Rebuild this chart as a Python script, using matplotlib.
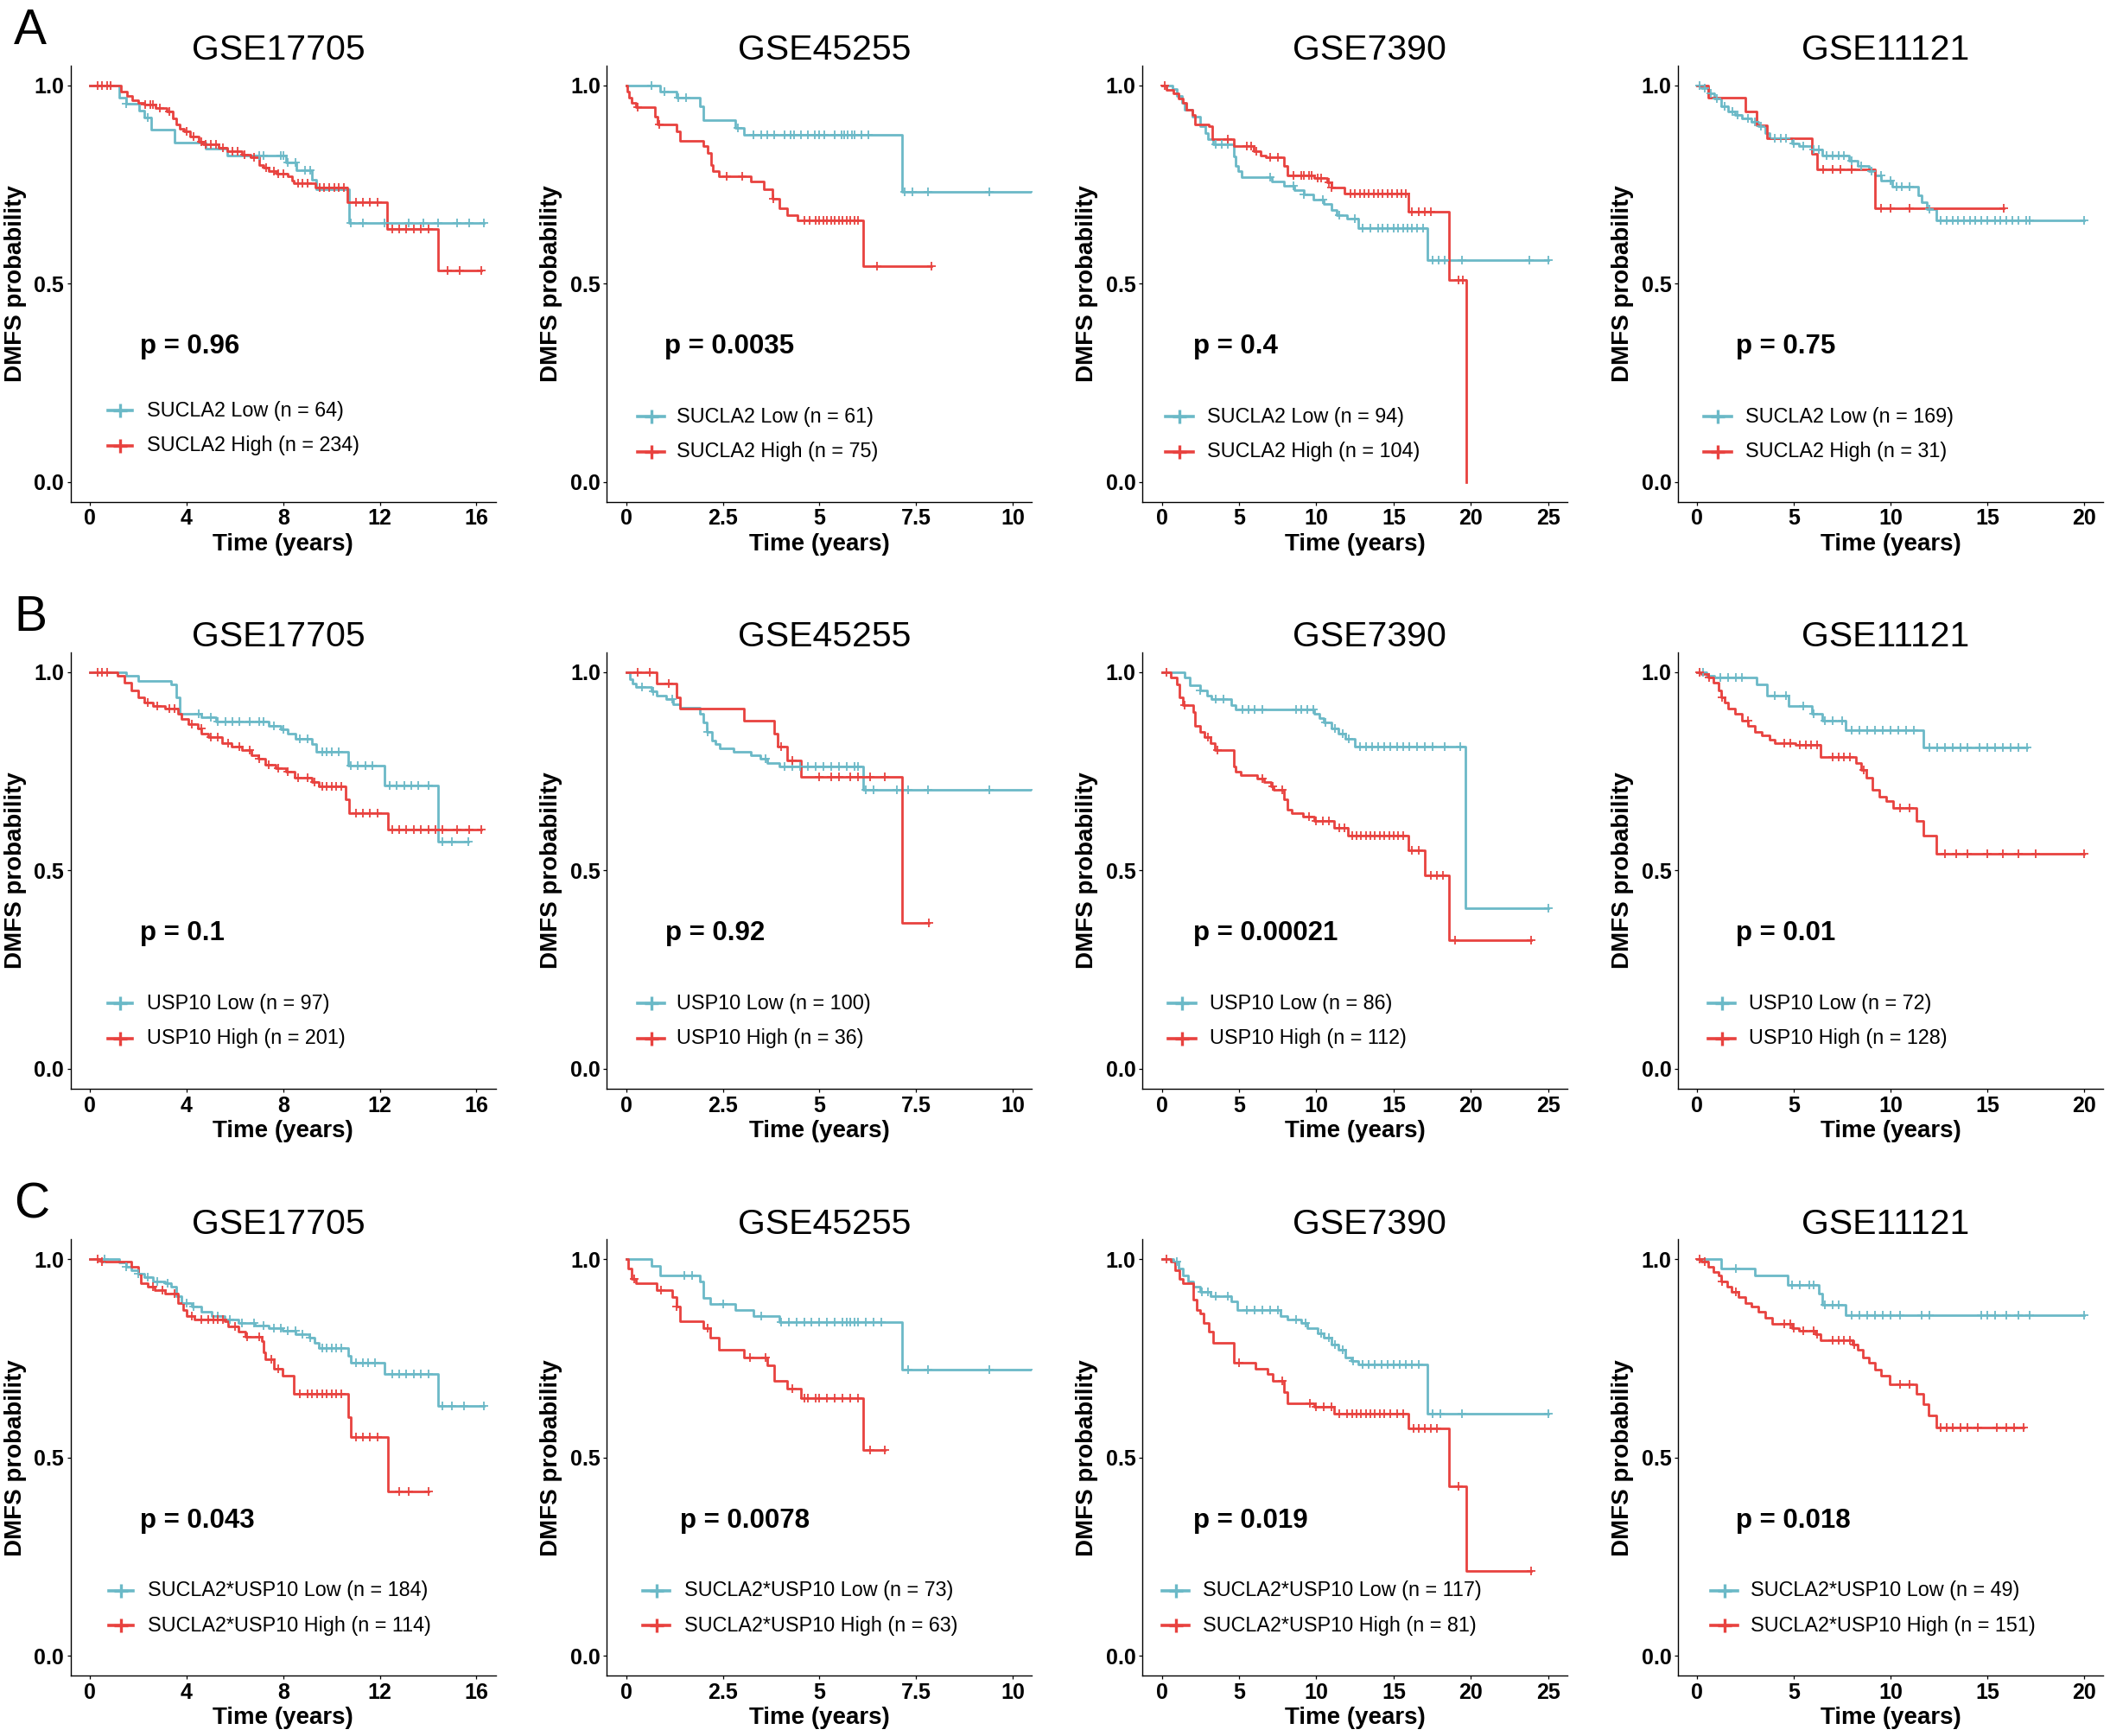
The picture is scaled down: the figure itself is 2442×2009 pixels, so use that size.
import matplotlib
matplotlib.use("Agg")
import matplotlib.pyplot as plt
import numpy as np

plt.rcParams['font.family'] = ['Liberation Sans', 'DejaVu Sans']

LOW_COL = '#6BB9C7'
HIGH_COL = '#E8423F'

# Panel text
datasets = ['GSE17705', 'GSE45255', 'GSE7390', 'GSE11121']
x_max = [16, 10, 25, 20]
x_ticks = [[0, 4, 8, 12, 16], [0, 2.5, 5, 7.5, 10], [0, 5, 10, 15, 20, 25], [0, 5, 10, 15, 20]]
x_tick_labels = [['0', '4', '8', '12', '16'], ['0', '2.5', '5', '7.5', '10'],
                 ['0', '5', '10', '15', '20', '25'], ['0', '5', '10', '15', '20']]
row_letters = ['A', 'B', 'C']
genes = ['SUCLA2', 'USP10', 'SUCLA2*USP10']
n_low = [[64, 61, 94, 169], [97, 100, 86, 72], [184, 73, 117, 49]]
n_high = [[234, 75, 104, 31], [201, 36, 112, 128], [114, 63, 81, 151]]
p_values = [['0.96', '0.0035', '0.4', '0.75'],
            ['0.1', '0.92', '0.00021', '0.01'],
            ['0.043', '0.0078', '0.019', '0.018']]

# ---- Row A : SUCLA2 ----
a1_low_t = [1.22, 1.49, 2.05, 2.23, 2.55, 3.50, 4.77, 5.68, 8.12, 8.54, 9.19, 9.35, 10.71]
a1_low_s = [0.970, 0.954, 0.936, 0.919, 0.889, 0.856, 0.840, 0.823, 0.806, 0.785, 0.763, 0.738, 0.653]
a1_low_c = [1.5, 2.4, 7.0, 7.2, 7.9, 8.0, 8.2, 8.5, 8.9, 9.1, 10.8, 11.3, 12.2, 13.2, 13.8, 14.4, 15.2, 15.7]
a1_low_end = 16.3
a1_high_t = [1.28, 1.52, 1.75, 1.99, 2.23, 2.70, 3.18, 3.42, 3.56, 3.72, 3.90, 4.14, 4.49, 4.67, 5.33,
             5.68, 6.28, 6.64, 7.00, 7.17, 7.41, 7.71, 8.18, 8.36, 8.42, 9.32, 10.65, 12.30, 14.40]
a1_high_s = [0.985, 0.974, 0.963, 0.956, 0.951, 0.943, 0.934, 0.916, 0.901, 0.891, 0.883, 0.872, 0.858,
             0.851, 0.842, 0.833, 0.825, 0.818, 0.800, 0.793, 0.784, 0.778, 0.771, 0.760, 0.753, 0.743,
             0.706, 0.638, 0.534]
a1_high_c = [0.3, 0.5, 0.7, 0.85, 2.3, 2.5, 2.6, 2.9, 3.3, 4.0, 4.3, 4.6, 4.8, 5.0, 5.2, 5.5, 5.9, 6.1,
             6.4, 6.8, 7.3, 7.6, 7.8, 8.0, 8.6, 8.8, 9.0, 9.5, 9.7, 9.9, 10.1, 10.3, 10.5, 11.0, 11.3,
             11.6, 11.9, 12.5, 12.8, 13.1, 13.4, 13.7, 14.0, 14.8, 15.3]
a1_high_end = 16.2

a2_low_t = [0.87, 1.30, 1.91, 2.00, 2.83, 3.04, 7.13]
a2_low_s = [0.984, 0.968, 0.948, 0.913, 0.893, 0.876, 0.731]
a2_low_c = [0.66, 1.0, 1.35, 1.55, 2.9, 3.3, 3.5, 3.65, 3.83, 4.09, 4.26, 4.35, 4.52, 4.70, 4.87, 5.0,
            5.13, 5.39, 5.57, 5.65, 5.74, 5.83, 5.91, 6.09, 6.26, 7.2, 7.4, 7.8, 9.4]
a2_low_end = 10.6
a2_high_t = [0.03, 0.08, 0.15, 0.25, 0.75, 0.80, 1.30, 1.40, 2.00, 2.10, 2.20, 2.25, 2.40, 3.22, 3.57,
             3.79, 3.97, 4.17, 4.43, 6.14]
a2_high_s = [0.985, 0.970, 0.955, 0.945, 0.920, 0.902, 0.885, 0.861, 0.847, 0.830, 0.800, 0.783, 0.771,
             0.758, 0.737, 0.714, 0.691, 0.673, 0.659, 0.545]
a2_high_c = [0.3, 0.85, 2.6, 3.0, 3.8, 4.6, 4.75, 4.9, 5.0, 5.1, 5.2, 5.3, 5.4, 5.5, 5.6, 5.7, 5.8, 5.9,
             6.0, 6.5]
a2_high_end = 7.9

a3_low_t = [0.70, 1.00, 1.30, 1.50, 2.00, 2.50, 2.80, 3.00, 3.30, 4.65, 4.78, 4.96, 5.17, 7.10, 7.90,
            8.60, 9.20, 9.80, 10.50, 11.00, 11.30, 12.00, 12.70, 17.20]
a3_low_s = [0.990, 0.973, 0.955, 0.939, 0.920, 0.897, 0.879, 0.865, 0.852, 0.820, 0.797, 0.783, 0.769,
            0.757, 0.746, 0.735, 0.724, 0.712, 0.700, 0.686, 0.673, 0.664, 0.641, 0.559]
a3_low_c = [3.5, 3.9, 4.3, 7.0, 8.5, 9.2, 10.4, 11.5, 12.5, 13.0, 13.5, 14.0, 14.3, 14.6, 15.0, 15.3,
            15.6, 15.9, 16.2, 16.5, 16.9, 17.5, 17.9, 18.3, 19.4, 23.8]
a3_low_end = 25.0
a3_high_t = [0.30, 0.74, 1.09, 1.39, 1.60, 1.96, 2.17, 3.04, 3.26, 4.65, 5.96, 6.40, 6.74, 7.90, 8.13,
             9.87, 10.70, 10.96, 11.80, 15.96, 18.57, 19.70]
a3_high_s = [0.989, 0.980, 0.966, 0.955, 0.939, 0.925, 0.902, 0.897, 0.865, 0.847, 0.833, 0.824, 0.818,
             0.797, 0.774, 0.767, 0.755, 0.742, 0.728, 0.682, 0.510, 0.0]
a3_high_c = [0.2, 4.3, 5.5, 5.8, 6.1, 7.0, 7.5, 8.5, 9.0, 9.2, 9.5, 9.7, 10.1, 10.3, 10.8, 11.0, 12.2,
             12.5, 12.8, 13.1, 13.4, 13.7, 14.0, 14.3, 14.6, 14.9, 15.2, 15.5, 15.8, 16.2, 16.6, 17.0,
             17.4, 19.2, 19.5]
a3_high_end = 19.7

a4_low_t = [0.20, 0.56, 0.90, 1.25, 1.60, 1.95, 2.30, 2.82, 3.17, 3.50, 3.76, 4.90, 5.25, 5.95, 6.47,
            7.86, 8.28, 8.90, 9.18, 9.53, 10.10, 11.44, 11.60, 11.86, 12.38]
a4_low_s = [0.993, 0.980, 0.966, 0.948, 0.934, 0.925, 0.916, 0.907, 0.897, 0.879, 0.867, 0.854, 0.847,
            0.838, 0.824, 0.810, 0.797, 0.783, 0.774, 0.760, 0.745, 0.723, 0.705, 0.687, 0.659]
a4_low_c = [0.1, 0.4, 0.7, 1.0, 1.4, 1.8, 2.1, 2.6, 3.0, 3.3, 4.0, 4.3, 4.6, 5.0, 5.5, 6.0, 6.3, 6.7,
            7.0, 7.3, 7.6, 8.0, 8.5, 9.0, 9.5, 10.0, 10.3, 10.6, 11.0, 12.0, 12.6, 12.9, 13.2, 13.5,
            13.8, 14.1, 14.4, 14.7, 15.0, 15.4, 15.7, 16.0, 16.3, 16.6, 17.0, 17.2]
a4_low_end = 20.0
a4_high_t = [0.55, 2.47, 3.06, 3.60, 5.95, 6.20, 9.18]
a4_high_s = [0.968, 0.934, 0.900, 0.867, 0.828, 0.788, 0.690]
a4_high_c = [6.5, 7.0, 7.4, 8.0, 9.5, 10.0, 11.0]
a4_high_end = 15.86

# ---- Row B : USP10 ----
b1_low_t = [1.50, 1.98, 3.37, 3.56, 3.73, 4.62, 5.23, 7.40, 7.90, 8.18, 8.50, 9.20, 9.35, 10.68, 12.19,
            14.41]
b1_low_s = [0.992, 0.978, 0.969, 0.937, 0.896, 0.886, 0.875, 0.864, 0.855, 0.845, 0.832, 0.818, 0.800,
            0.765, 0.714, 0.572]
b1_low_c = [4.5, 5.0, 5.3, 5.6, 5.9, 6.2, 6.6, 7.0, 7.2, 7.6, 8.0, 8.7, 9.0, 9.6, 9.8, 10.0, 10.3, 10.8,
            11.1, 11.4, 11.7, 12.4, 12.7, 13.0, 13.3, 13.6, 14.0, 14.6, 15.0]
b1_low_end = 15.67
b1_high_t = [1.14, 1.42, 1.70, 1.98, 2.25, 2.60, 3.09, 3.64, 3.78, 4.06, 4.48, 4.62, 4.90, 5.45, 5.87,
             6.29, 6.70, 6.98, 7.26, 7.68, 8.10, 8.46, 9.20, 9.49, 10.60, 10.74, 12.35]
b1_high_s = [0.992, 0.973, 0.955, 0.937, 0.923, 0.914, 0.909, 0.896, 0.882, 0.868, 0.859, 0.845, 0.836,
             0.822, 0.813, 0.804, 0.790, 0.781, 0.767, 0.758, 0.749, 0.735, 0.722, 0.712, 0.680, 0.644,
             0.603]
b1_high_c = [0.3, 0.5, 0.7, 2.4, 2.8, 3.3, 3.5, 4.2, 4.6, 5.0, 5.3, 5.7, 6.2, 6.6, 7.0, 7.4, 7.8, 8.2,
             8.6, 9.0, 9.3, 9.6, 9.8, 10.0, 10.2, 10.4, 11.0, 11.3, 11.6, 11.9, 12.5, 12.8, 13.1, 13.4,
             13.7, 14.0, 14.3, 14.6, 15.2, 15.7]
b1_high_end = 16.2

b2_low_t = [0.09, 0.17, 0.26, 0.66, 0.78, 1.04, 1.22, 1.39, 1.91, 2.00, 2.09, 2.21, 2.30, 2.43, 2.78,
            3.22, 3.48, 3.65, 3.97, 6.14]
b2_low_s = [0.983, 0.972, 0.962, 0.951, 0.941, 0.932, 0.920, 0.911, 0.896, 0.873, 0.850, 0.827, 0.818,
            0.809, 0.800, 0.791, 0.781, 0.772, 0.763, 0.703]
b2_low_c = [0.4, 0.7, 1.2, 2.1, 3.6, 4.1, 4.3, 4.5, 4.7, 4.9, 5.1, 5.3, 5.5, 5.7, 5.9, 6.0, 6.2, 6.4,
            7.0, 7.3, 7.8, 9.4]
b2_low_end = 10.6
b2_high_t = [0.78, 1.30, 1.39, 3.04, 3.83, 3.91, 4.17, 4.52, 7.13]
b2_high_s = [0.972, 0.937, 0.909, 0.877, 0.845, 0.813, 0.777, 0.737, 0.369]
b2_high_c = [0.3, 0.6, 1.1, 4.0, 4.3, 5.0, 5.3, 5.5, 5.8, 6.0, 6.3, 6.7]
b2_high_end = 7.83

b3_low_t = [1.48, 1.83, 2.48, 2.91, 3.22, 4.52, 4.78, 9.87, 10.20, 10.50, 10.96, 11.40, 11.90, 12.50,
            19.65]
b3_low_s = [0.987, 0.966, 0.953, 0.941, 0.932, 0.918, 0.907, 0.896, 0.884, 0.873, 0.859, 0.845, 0.832,
            0.813, 0.406]
b3_low_c = [2.5, 3.5, 4.0, 5.2, 5.6, 6.0, 6.5, 8.7, 9.0, 9.4, 9.8, 10.6, 11.2, 11.7, 12.1, 12.8, 13.2,
            13.6, 14.0, 14.4, 14.8, 15.2, 15.6, 16.0, 16.5, 17.0, 17.5, 18.3, 19.3]
b3_low_end = 25.0
b3_high_t = [0.60, 0.96, 1.17, 1.39, 2.04, 2.17, 2.48, 2.78, 3.13, 3.43, 4.65, 4.78, 5.09, 6.17, 6.60,
             7.04, 7.26, 7.90, 8.13, 8.43, 9.13, 9.87, 11.17, 12.04, 15.96, 17.04, 18.57]
b3_high_s = [0.987, 0.969, 0.937, 0.918, 0.900, 0.865, 0.850, 0.836, 0.822, 0.804, 0.763, 0.749, 0.740,
             0.731, 0.722, 0.712, 0.703, 0.680, 0.653, 0.644, 0.635, 0.625, 0.607, 0.589, 0.552, 0.488,
             0.325]
b3_high_c = [0.3, 1.5, 3.0, 3.6, 6.5, 7.2, 7.8, 9.5, 10.0, 10.4, 10.8, 11.5, 11.8, 12.3, 12.6, 12.9,
             13.2, 13.5, 13.8, 14.1, 14.4, 14.7, 15.0, 15.3, 15.6, 16.2, 16.6, 17.4, 17.8, 18.2, 19.0]
b3_high_end = 23.9

b4_low_t = [0.49, 0.90, 3.06, 3.62, 4.73, 5.95, 6.47, 7.69, 11.69]
b4_low_s = [0.992, 0.987, 0.969, 0.941, 0.914, 0.896, 0.877, 0.854, 0.810]
b4_low_c = [0.3, 1.2, 1.6, 2.0, 2.3, 4.0, 4.6, 5.5, 6.0, 6.6, 7.0, 7.5, 8.0, 8.4, 8.8, 9.2, 9.6, 10.0,
            10.4, 10.8, 11.2, 12.0, 12.4, 12.8, 13.2, 13.6, 14.0, 14.6, 15.0, 15.4, 15.8, 16.2, 16.6]
b4_low_end = 17.08
b4_high_t = [0.20, 0.56, 0.83, 1.08, 1.25, 1.43, 1.60, 1.95, 2.30, 2.64, 2.99, 3.34, 3.76, 4.03, 5.08,
             6.40, 8.20, 8.49, 8.73, 9.08, 9.43, 9.77, 10.12, 11.34, 11.69, 12.38]
b4_high_s = [0.996, 0.987, 0.973, 0.955, 0.937, 0.923, 0.909, 0.896, 0.877, 0.864, 0.850, 0.841, 0.829,
             0.822, 0.816, 0.786, 0.772, 0.753, 0.735, 0.703, 0.685, 0.676, 0.657, 0.625, 0.589, 0.543]
b4_high_c = [0.1, 0.6, 1.3, 2.6, 4.5, 4.8, 5.3, 5.6, 5.9, 6.2, 7.0, 7.3, 7.6, 7.9, 8.6, 10.5, 11.0,
             12.8, 13.4, 14.0, 15.0, 15.8, 16.6, 17.5]
b4_high_end = 20.0

# ---- Row C : SUCLA2*USP10 ----
c1_low_t = [1.22, 1.50, 1.70, 1.98, 2.25, 2.62, 3.09, 3.37, 3.56, 3.78, 4.20, 4.62, 5.04, 5.59, 6.15,
            6.84, 7.40, 7.96, 8.51, 9.07, 9.29, 9.49, 10.68, 10.80, 12.19, 14.41]
c1_low_s = [0.993, 0.981, 0.972, 0.963, 0.954, 0.945, 0.940, 0.931, 0.908, 0.890, 0.881, 0.867, 0.858,
            0.849, 0.840, 0.832, 0.826, 0.821, 0.812, 0.803, 0.789, 0.776, 0.757, 0.739, 0.710, 0.631]
c1_low_c = [0.6, 1.5, 2.0, 2.4, 2.8, 3.2, 4.0, 4.3, 5.3, 5.8, 6.3, 6.8, 7.2, 7.6, 7.9, 8.2, 8.5, 8.8,
            9.1, 9.6, 9.8, 10.0, 10.2, 10.4, 11.0, 11.3, 11.5, 11.8, 12.5, 12.8, 13.1, 13.4, 13.7, 14.0,
            14.6, 15.0, 15.5]
c1_low_end = 16.3
c1_high_t = [0.45, 1.70, 1.98, 2.11, 2.39, 2.67, 3.09, 3.64, 3.84, 4.00, 4.34, 5.59, 5.73, 6.15, 6.43,
             7.12, 7.18, 7.26, 7.62, 7.96, 8.43, 10.68, 10.80, 12.35]
c1_high_s = [0.994, 0.981, 0.963, 0.940, 0.931, 0.922, 0.913, 0.890, 0.872, 0.858, 0.849, 0.844, 0.831,
             0.817, 0.805, 0.794, 0.766, 0.748, 0.725, 0.707, 0.661, 0.602, 0.551, 0.414]
c1_high_c = [0.3, 0.5, 2.6, 3.0, 3.5, 4.2, 4.6, 4.9, 5.1, 5.3, 5.5, 6.0, 6.5, 7.0, 7.5, 7.8, 8.7, 9.0,
             9.2, 9.4, 9.6, 9.8, 10.0, 10.2, 10.4, 11.0, 11.3, 11.6, 11.9, 12.8, 13.2]
c1_high_end = 14.0

c2_low_t = [0.66, 0.87, 1.91, 2.00, 2.17, 2.82, 3.30, 3.97, 7.13]
c2_low_s = [0.984, 0.959, 0.945, 0.902, 0.887, 0.872, 0.856, 0.842, 0.721]
c2_low_c = [1.5, 1.7, 2.5, 3.5, 4.0, 4.2, 4.4, 4.6, 4.8, 5.0, 5.2, 5.4, 5.6, 5.7, 5.8, 5.9, 6.0, 6.2,
            6.4, 6.6, 7.3, 7.8, 9.4]
c2_low_end = 10.6
c2_high_t = [0.05, 0.14, 0.26, 0.78, 1.18, 1.30, 1.39, 2.00, 2.17, 2.40, 3.04, 3.65, 3.83, 4.17, 4.52,
             6.14]
c2_high_s = [0.977, 0.950, 0.939, 0.922, 0.904, 0.881, 0.844, 0.826, 0.803, 0.771, 0.753, 0.732, 0.693,
             0.673, 0.649, 0.519]
c2_high_c = [0.2, 0.9, 1.3, 2.1, 3.2, 3.6, 4.3, 4.6, 4.7, 4.9, 5.0, 5.2, 5.4, 5.6, 5.8, 6.0, 6.3]
c2_high_end = 6.7

c3_low_t = [0.74, 1.09, 1.39, 1.70, 2.04, 2.48, 3.13, 4.52, 4.87, 7.70, 8.13, 9.00, 9.43, 10.09, 10.50,
            10.96, 11.40, 11.90, 12.26, 12.70, 17.17]
c3_low_s = [0.994, 0.977, 0.959, 0.945, 0.931, 0.918, 0.908, 0.895, 0.872, 0.858, 0.849, 0.840, 0.826,
            0.814, 0.803, 0.785, 0.771, 0.753, 0.744, 0.734, 0.611]
c3_low_c = [1.0, 2.6, 3.0, 3.5, 4.3, 5.5, 6.0, 6.5, 7.0, 7.5, 8.7, 9.3, 10.3, 10.8, 11.2, 11.7, 12.4,
            13.0, 13.4, 13.8, 14.2, 14.6, 15.0, 15.4, 15.8, 16.2, 16.6, 17.5, 18.0, 19.4]
c3_low_end = 25.0
c3_high_t = [0.60, 0.87, 1.17, 1.39, 2.04, 2.26, 2.48, 2.70, 3.04, 3.35, 4.65, 6.04, 6.83, 7.17, 7.90,
             8.13, 9.87, 11.17, 15.96, 18.57, 19.70]
c3_high_s = [0.994, 0.973, 0.950, 0.940, 0.899, 0.872, 0.863, 0.840, 0.817, 0.789, 0.739, 0.725, 0.712,
             0.693, 0.666, 0.638, 0.629, 0.611, 0.574, 0.428, 0.215]
c3_high_c = [0.3, 5.0, 7.8, 9.6, 10.0, 10.5, 11.0, 11.5, 12.0, 12.3, 12.6, 12.9, 13.2, 13.5, 13.8, 14.1,
             14.4, 14.8, 15.2, 15.6, 16.3, 16.6, 17.0, 17.4, 17.8, 19.2]
c3_high_end = 23.9

c4_low_t = [1.25, 3.00, 4.66, 6.30, 6.47, 7.69]
c4_low_s = [0.977, 0.959, 0.936, 0.913, 0.886, 0.860]
c4_low_c = [2.0, 4.9, 5.3, 5.8, 6.0, 6.6, 7.0, 7.3, 8.0, 8.4, 8.8, 9.2, 9.6, 10.0, 10.5, 11.6, 12.0,
            14.7, 15.0, 15.4, 16.0, 16.6, 17.2]
c4_low_end = 20.0
c4_high_t = [0.20, 0.56, 0.83, 1.08, 1.25, 1.53, 1.77, 2.12, 2.47, 2.82, 3.17, 3.51, 3.86, 4.90, 5.25,
             6.12, 6.40, 8.03, 8.28, 8.56, 8.90, 9.18, 9.53, 9.95, 11.34, 11.69, 11.97, 12.38]
c4_high_s = [0.994, 0.982, 0.968, 0.959, 0.945, 0.931, 0.918, 0.904, 0.890, 0.881, 0.867, 0.853, 0.838,
             0.826, 0.819, 0.812, 0.796, 0.785, 0.771, 0.753, 0.739, 0.723, 0.707, 0.684, 0.661, 0.634,
             0.606, 0.576]
c4_high_c = [0.1, 0.4, 1.3, 2.0, 4.5, 4.8, 5.0, 5.5, 6.0, 6.2, 7.0, 7.3, 7.6, 7.9, 8.1, 10.5, 11.0, 12.6,
             12.9, 13.2, 13.6, 14.0, 14.5, 15.5, 16.0, 16.4]
c4_high_end = 16.9

curves = [
    [(a1_low_t, a1_low_s, a1_low_c, a1_low_end, a1_high_t, a1_high_s, a1_high_c, a1_high_end),
     (a2_low_t, a2_low_s, a2_low_c, a2_low_end, a2_high_t, a2_high_s, a2_high_c, a2_high_end),
     (a3_low_t, a3_low_s, a3_low_c, a3_low_end, a3_high_t, a3_high_s, a3_high_c, a3_high_end),
     (a4_low_t, a4_low_s, a4_low_c, a4_low_end, a4_high_t, a4_high_s, a4_high_c, a4_high_end)],
    [(b1_low_t, b1_low_s, b1_low_c, b1_low_end, b1_high_t, b1_high_s, b1_high_c, b1_high_end),
     (b2_low_t, b2_low_s, b2_low_c, b2_low_end, b2_high_t, b2_high_s, b2_high_c, b2_high_end),
     (b3_low_t, b3_low_s, b3_low_c, b3_low_end, b3_high_t, b3_high_s, b3_high_c, b3_high_end),
     (b4_low_t, b4_low_s, b4_low_c, b4_low_end, b4_high_t, b4_high_s, b4_high_c, b4_high_end)],
    [(c1_low_t, c1_low_s, c1_low_c, c1_low_end, c1_high_t, c1_high_s, c1_high_c, c1_high_end),
     (c2_low_t, c2_low_s, c2_low_c, c2_low_end, c2_high_t, c2_high_s, c2_high_c, c2_high_end),
     (c3_low_t, c3_low_s, c3_low_c, c3_low_end, c3_high_t, c3_high_s, c3_high_c, c3_high_end),
     (c4_low_t, c4_low_s, c4_low_c, c4_low_end, c4_high_t, c4_high_s, c4_high_c, c4_high_end)],
]

# layout (pixels of the 2442x2009 canvas)
W, H = 2442, 2009
col_left = [81.8, 702.4, 1322.2, 1942.0]
row_top = [75.8, 754.9, 1434.4]
ax_w, ax_h = 492.0, 505.0
title_x = [0.488, 0.511, 0.534, 0.488]

# legend key x (line start, line end, text) in axes fraction
leg_x = [[(0.087, 0.144, 0.179), (0.072, 0.136, 0.164), (0.054, 0.120, 0.152), (0.060, 0.127, 0.159)],
         [(0.087, 0.144, 0.179), (0.072, 0.136, 0.164), (0.060, 0.126, 0.158), (0.072, 0.135, 0.166)],
         [(0.090, 0.147, 0.182), (0.085, 0.148, 0.183), (0.047, 0.110, 0.142), (0.078, 0.141, 0.170)]]
p_x = [[0.163, 0.136, 0.120, 0.137],
       [0.163, 0.138, 0.120, 0.137],
       [0.163, 0.171, 0.120, 0.137]]


def draw_km(ax, t, s, cens, end, color):
    t = np.asarray(t)
    s = np.asarray(s)
    xs = np.r_[0.0, t, end]
    ys = np.r_[1.0, s, s[-1]]
    ax.step(xs, ys, where='post', color=color, lw=2.0, zorder=3)
    cx = np.asarray(cens, dtype=float)
    if s[-1] > 0:
        cx = np.r_[cx, end]
    levels = np.r_[1.0, s]
    cy = levels[np.searchsorted(t, cx, side='right')]
    ax.plot(cx, cy, ls='none', marker='+', ms=6.5, mew=1.3, color=color, zorder=4)


fig = plt.figure(figsize=(W / 100, H / 100), dpi=100)

for r in range(3):
    fig.text(16 / W, 1 - (row_top[r] - 25) / H, row_letters[r], fontsize=41,
             ha='left', va='baseline')
    for c in range(4):
        ax = fig.add_axes([col_left[c] / W, 1 - (row_top[r] + ax_h) / H, ax_w / W, ax_h / H])
        lt, ls_, lc, le, ht, hs, hc, he = curves[r][c]
        draw_km(ax, lt, ls_, lc, le, LOW_COL)
        draw_km(ax, ht, hs, hc, he, HIGH_COL)

        xm = x_max[c]
        ax.set_xlim(-0.05 * xm, 1.05 * xm)
        ax.set_ylim(-0.05, 1.05)
        ax.set_xticks(x_ticks[c])
        ax.set_xticklabels(x_tick_labels[c])
        ax.set_yticks([0, 0.5, 1.0])
        ax.set_yticklabels(['0.0', '0.5', '1.0'])
        for side in ['top', 'right']:
            ax.spines[side].set_visible(False)
        for side in ['left', 'bottom']:
            ax.spines[side].set_linewidth(1.0)
        ax.tick_params(direction='out', length=3, width=0.9, pad=2.5, labelsize=18)
        for lab in ax.get_xticklabels() + ax.get_yticklabels():
            lab.set_fontweight('bold')

        ax.text(title_x[c], 1.013, datasets[c], transform=ax.transAxes, ha='center',
                va='baseline', fontsize=29.5)
        ax.text(-0.130, 0.5, 'DMFS probability', transform=ax.transAxes, rotation=90,
                ha='center', va='center', fontsize=20, fontweight='bold')
        ax.text(0.5, -56 / ax_h, 'Time (years)', transform=ax.transAxes, ha='center',
                va='baseline', fontsize=20, fontweight='bold')
        ax.text(p_x[r][c], 0.34, 'p = ' + p_values[r][c], transform=ax.transAxes,
                ha='left', va='baseline', fontsize=22.5, fontweight='bold')

        # legend drawn as keys inside the panel
        x0, x1, xt = leg_x[r][c]
        ys = (0.209, 0.129) if (r == 0 and c == 0) else (0.195, 0.115)
        labels = [f'{genes[r]} Low (n = {n_low[r][c]})', f'{genes[r]} High (n = {n_high[r][c]})']
        for yy, col, lab in zip(ys, [LOW_COL, HIGH_COL], labels):
            ax.plot([x0, x1], [yy, yy], transform=ax.transAxes, color=col, lw=2.6, clip_on=False)
            ax.plot([(x0 + x1) / 2], [yy], transform=ax.transAxes, color=col, marker='+',
                    ms=11, mew=2.4, clip_on=False)
            ax.text(xt, yy, lab, transform=ax.transAxes, ha='left', va='center', fontsize=16.8)

fig.savefig('out.png', dpi=100)
